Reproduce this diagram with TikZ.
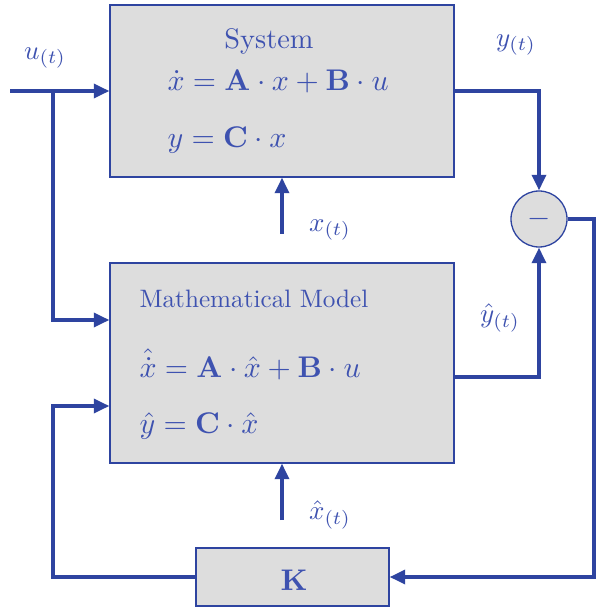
\documentclass[tikz,border=0pt]{standalone}
\usetikzlibrary{arrows.meta}
\usepackage{fix-cm}
\definecolor{lineblue}{RGB}{46,68,160}
\definecolor{txtblue}{RGB}{62,82,176}
\definecolor{boxgray}{RGB}{221,221,221}
\newcommand\pxu{0.385pt}
\begin{document}
\begin{tikzpicture}[x=\pxu,y=-\pxu,
  blk/.style={draw=lineblue,fill=boxgray,line width=0.5pt,inner sep=0pt},
  conn/.style={draw=lineblue,line width=1.3pt},
  arr/.style={conn,-{Triangle[length=6pt,width=5.4pt]}},
  txt/.style={text=txtblue,inner sep=0pt},
  eqn/.style={txt,font=\fontsize{11.5}{14}\selectfont},
  lab/.style={txt,font=\fontsize{10.4}{12}\selectfont},
  font=\normalsize]
\useasboundingbox (0,0) rectangle (596,608);
% blocks
\node[blk,minimum width=344*\pxu,minimum height=172*\pxu] (sys) at (282,91) {};
\node[blk,minimum width=344*\pxu,minimum height=200*\pxu] (mod) at (282,363) {};
\node[blk,minimum width=193*\pxu,minimum height=58*\pxu] (K) at (292.5,577) {};
\node[blk,circle,minimum size=56*\pxu] (sum) at (539,219) {};
% texts
\node[txt,anchor=base,font=\fontsize{10.9}{13}\selectfont] (systitle) at (269,49) {System};
\node[eqn,anchor=base west] (syseq1) at (167,91) {$\dot{x}=\mathbf{A}\cdot x+\mathbf{B}\cdot u$};
\node[eqn,anchor=base west] (syseq2) at (167,148) {$y=\mathbf{C}\cdot x$};
\node[txt,anchor=base west,font=\fontsize{9.7}{12}\selectfont] (modtitle) at (139,307) {Mathematical Model};
\node[eqn,anchor=base west] (modeq1) at (139,377) {$\hat{\dot{x}}=\mathbf{A}\cdot \hat{x}+\mathbf{B}\cdot u$};
\node[eqn,anchor=base west] (modeq2) at (139,433) {$\hat{y}=\mathbf{C}\cdot \hat{x}$};
\node[eqn] (klabel) at (294,580) {$\mathbf{K}$};
\node[eqn] (minus) at (539,219) {$-$};
\node[lab] (ulab) at (45,58) {$u_{(t)}$};
\node[lab] (ylab) at (516,45) {$y_{(t)}$};
\node[lab] (xlab) at (330,230) {$x_{(t)}$};
\node[lab] (yhlab) at (500,318) {$\hat{y}_{(t)}$};
\node[lab] (xhlab) at (330,515) {$\hat{x}_{(t)}$};
% coordinates
\coordinate (uin) at (10,91);
\coordinate (br) at (53,91);
\coordinate (xs) at (282,234);
\coordinate (xhs) at (282,520);
\coordinate (modin1) at (mod.west |- 0,320);
\coordinate (modin2) at (mod.west |- 0,406);
\coordinate (sysout) at (sys.east |- 0,91);
\coordinate (modout) at (mod.east |- 0,377);
\coordinate (redge) at (594,219);
% connectors
\draw[arr] (uin) -- (sys.west |- uin);
\draw[arr] (br) |- (modin1);
\draw[arr] (K.west) -| (53,406) -- (modin2);
\draw[arr] (sysout) -| (sum.north);
\draw[arr] (modout) -| (sum.south);
\draw[arr] (sum.east) -- (redge) |- (K.east);
\draw[arr] (xs) -- (xs |- sys.south);
\draw[arr] (xhs) -- (xhs |- mod.south);
\end{tikzpicture}
\end{document}
